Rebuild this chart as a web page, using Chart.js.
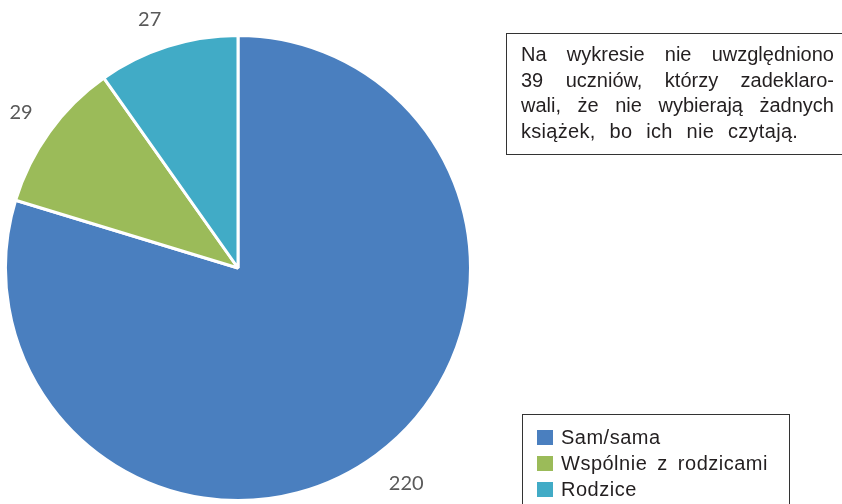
<!DOCTYPE html>
<html>
<head>
<meta charset="utf-8">
<script src="https://cdn.jsdelivr.net/npm/chart.js@4"></script>
<style>
  body { margin: 0; background: #fff; }
  #wrap { position: relative; width: 842px; height: 504px; overflow: hidden; }
  #note {
    position: absolute; left: 506px; top: 33px; width: 345px; height: 122px;
    border: 1.5px solid #333; box-sizing: border-box;
    font-family: "Liberation Sans", Arial, sans-serif; font-size: 20px; color: #231f20;
    padding: 8px 0 0 14px;
  }
  #note div { width: 313px; text-align: justify; text-align-last: justify; line-height: 25.5px; white-space: nowrap; }
  #note div.last { text-align-last: left; word-spacing: 8px; letter-spacing: 0.3px; }
  #legend {
    position: absolute; left: 522px; top: 414px; width: 268px; height: 100px;
    border: 1.5px solid #333; box-sizing: border-box;
    font-family: "Liberation Sans", Arial, sans-serif; font-size: 20px; color: #231f20;
    padding: 9px 0 0 14px;
  }
  #legend .item { height: 26px; line-height: 26px; white-space: nowrap; word-spacing: 4px; letter-spacing: 0.5px; }
  #legend .box { display: inline-block; width: 16px; height: 15px; margin-right: 8px; vertical-align: -1px; }
</style>
</head>
<body>
<div id="wrap">
  <canvas id="pieChart" width="842" height="504"></canvas>
  <div id="note">
    <div>Na wykresie nie uwzględniono</div>
    <div>39 uczniów, którzy zadeklaro-</div>
    <div>wali, że nie wybierają żadnych</div>
    <div class="last">książek, bo ich nie czytają.</div>
  </div>
  <div id="legend"></div>
</div>
<script>
  const labels = ['Sam/sama', 'Wspólnie z rodzicami', 'Rodzice'];
  const values = [220, 29, 27];
  const colors = ['#4A7FBF', '#9BBB59', '#41ABC6'];

  const legendEl = document.getElementById('legend');
  labels.forEach(function(name, i) {
    const row = document.createElement('div');
    row.className = 'item';
    const sw = document.createElement('span');
    sw.className = 'box';
    sw.style.background = colors[i];
    row.appendChild(sw);
    row.appendChild(document.createTextNode(name));
    legendEl.appendChild(row);
  });

  // value labels just outside the slice end, box anchored away from the pie
  const outsideLabels = {
    id: 'outsideLabels',
    afterDatasetsDraw(chart) {
      const ctx = chart.ctx;
      const meta = chart.getDatasetMeta(0);
      ctx.save();
      ctx.font = '20px Lato, "Open Sans", sans-serif';
      ctx.fillStyle = '#595959';
      ctx.textAlign = 'center';
      ctx.textBaseline = 'middle';
      meta.data.forEach(function(arc, i) {
        const p = arc.getProps(['x', 'y', 'startAngle', 'endAngle', 'outerRadius']);
        const mid = (p.startAngle + p.endAngle) / 2;
        const r = p.outerRadius + 21;
        const dx = Math.cos(mid), dy = Math.sin(mid);
        const txt = String(values[i]);
        const w = ctx.measureText(txt).width;
        const h = 18;
        const x = p.x + dx * r + Math.sign(dx) * w / 2;
        const y = p.y + dy * r + Math.sign(dy) * h / 2 + 2.5;
        ctx.fillText(txt, x, y);
      });
      ctx.restore();
    }
  };

  new Chart(document.getElementById('pieChart').getContext('2d'), {
    type: 'pie',
    data: {
      labels: labels,
      datasets: [{
        data: values,
        backgroundColor: colors,
        borderColor: '#ffffff',
        borderWidth: 3
      }]
    },
    options: {
      responsive: false,
      animation: false,
      layout: { padding: { left: 4, top: 34, right: 370, bottom: 2 } },
      plugins: {
        legend: { display: false },
        tooltip: { enabled: false }
      }
    },
    plugins: [outsideLabels]
  });
</script>
</body>
</html>
